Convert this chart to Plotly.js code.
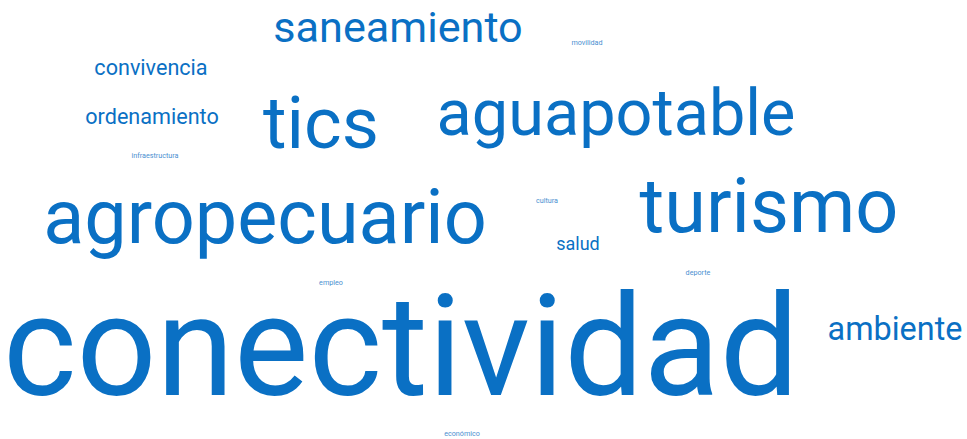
<!DOCTYPE html>
<html>
<head>
<meta charset="utf-8">
<script src="https://cdn.plot.ly/plotly-3.0.1.min.js"></script>
<style>
html,body{margin:0;padding:0;background:#fff;}
#chart{width:967px;height:439px;}
</style>
</head>
<body>
<div id="chart"></div>
<script>
// Word-cloud data: terms and their frequencies
var words = ["conectividad","agropecuario","turismo","tics","aguapotable","saneamiento","ambiente","convivencia","ordenamiento","salud","movilidad","infraestructura","cultura","empleo","deporte","económico"];
var counts = [39, 21, 21, 20, 18, 12, 9, 6, 6, 5, 2, 2, 2, 2, 2, 2];

// Placement of each word in the cloud (pixel grid of the canvas)
var placeX = [401, 265, 769, 321, 616, 398, 895, 151, 152, 578, 587, 155, 547, 331, 698, 462];
var placeY = [360, 224, 213, 130, 119, 31, 332, 70, 119, 245.5, 43, 156, 201, 283, 273, 434];

var sizeScale = 3.6;
var sizes = counts.map(function(c){ return c * sizeScale; });
var colors = counts.map(function(c){ return c <= 2 ? "#4a8fd0" : "#0a70c4"; });

var trace = {
  type: "scatter",
  mode: "text",
  x: placeX,
  y: placeY,
  text: words,
  textposition: "middle center",
  textfont: {family: "Roboto", size: sizes, color: colors},
  hoverinfo: "text",
  showlegend: false
};

var layout = {
  width: 967,
  height: 439,
  margin: {l: 0, r: 0, t: 0, b: 0},
  paper_bgcolor: "#ffffff",
  plot_bgcolor: "#ffffff",
  xaxis: {range: [0, 967], visible: false, fixedrange: true},
  yaxis: {range: [439, 0], visible: false, fixedrange: true},
  showlegend: false
};

Plotly.newPlot("chart", [trace], layout, {displayModeBar: false, staticPlot: true});
</script>
</body>
</html>
